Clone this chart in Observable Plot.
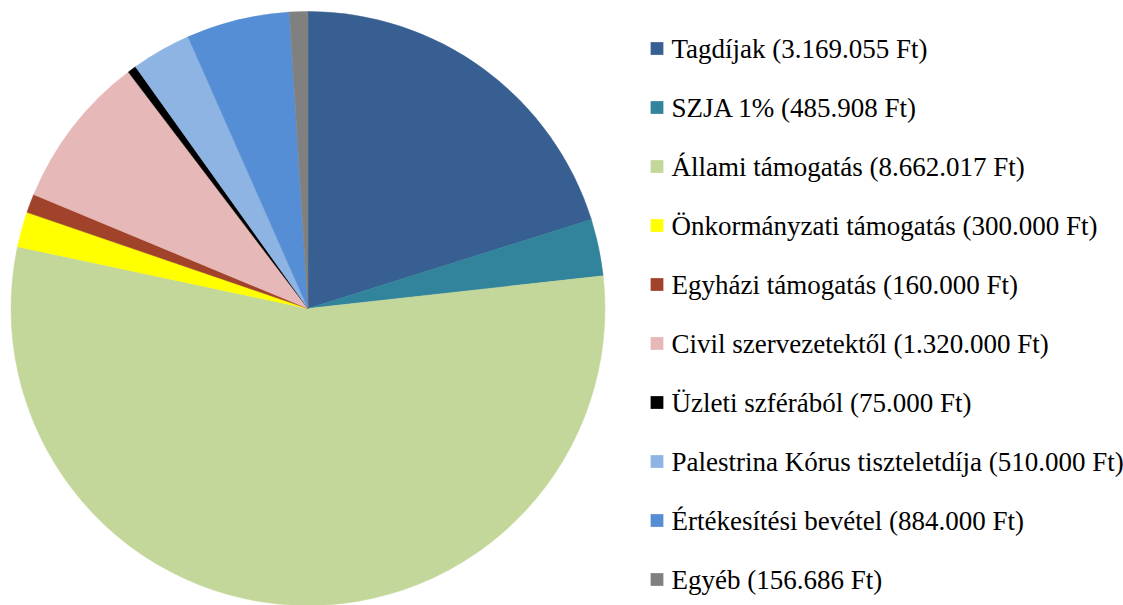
<!DOCTYPE html>
<html>
<head>
<meta charset="utf-8">
<script src="https://cdn.jsdelivr.net/npm/d3@7"></script>
<script src="https://cdn.jsdelivr.net/npm/@observablehq/plot@0.6"></script>
<style>
  html, body { margin: 0; padding: 0; background: #fff; }
</style>
</head>
<body>
<div id="wrap" style="position:relative;width:1123px;height:605px;overflow:hidden;"></div>
<script>
const categories = [
  "Tagdíjak", "SZJA 1%", "Állami támogatás", "Önkormányzati támogatás",
  "Egyházi támogatás", "Civil szervezetektől", "Üzleti szférából",
  "Palestrina Kórus tiszteletdíja", "Értékesítési bevétel", "Egyéb"
];
const values = [3169055, 485908, 8662017, 300000, 160000, 1320000, 75000, 510000, 884000, 156686];
const labels = [
  "Tagdíjak (3.169.055 Ft)", "SZJA 1% (485.908 Ft)", "Állami támogatás (8.662.017 Ft)",
  "Önkormányzati támogatás (300.000 Ft)", "Egyházi támogatás (160.000 Ft)",
  "Civil szervezetektől (1.320.000 Ft)", "Üzleti szférából (75.000 Ft)",
  "Palestrina Kórus tiszteletdíja (510.000 Ft)", "Értékesítési bevétel (884.000 Ft)",
  "Egyéb (156.686 Ft)"
];
const colors = ["#385F91", "#31849B", "#C4D79B", "#FFFF00", "#A0432A", "#E6B8B7", "#000000", "#8EB4E3", "#558ED5", "#808080"];

const data = categories.map((c, i) => ({category: c, value: values[i], label: labels[i]}));
const arcs = d3.pie().sort(null).value(d => d.value).startAngle(0).endAngle(2 * Math.PI)(data);

function pieMark(index, scales, values, dimensions, context) {
  const cx = scales.x(0), cy = scales.y(0);
  const r = scales.x(1) - scales.x(0);
  const arcGen = d3.arc().innerRadius(0).outerRadius(r);
  const g = d3.create("svg:g").attr("transform", `translate(${cx},${cy})`);
  g.selectAll("path").data(arcs).join("path")
    .attr("d", arcGen)
    .attr("fill", d => scales.color(d.data.category))
    .attr("stroke", d => scales.color(d.data.category))
    .attr("stroke-width", 0.5);
  return g.node();
}

const chart = Plot.plot({
  width: 640,
  height: 605,
  margin: 0,
  x: {domain: [-1, 1], range: [11, 605], axis: null},
  y: {domain: [-1, 1], range: [11.5, 605.5], axis: null},
  color: {domain: categories, range: colors},
  marks: [pieMark]
});
chart.style.position = "absolute";
chart.style.left = "0px";
chart.style.top = "0px";

const legendPlot = Plot.plot({
  width: 474,
  height: 605,
  margin: 0,
  style: {background: "transparent"},
  y: {domain: categories, type: "point", range: [46.5, 579.5], padding: 0, axis: null},
  color: {domain: categories, range: colors},
  marks: [
    Plot.dot(data, {y: "category", frameAnchor: "left", dx: 7.5, symbol: "square", r: 7.2, fill: "category", stroke: null}),
    Plot.text(data, {y: "category", text: "label", frameAnchor: "left", dx: 22, textAnchor: "start",
      fontSize: 27, fill: "#000", lineAnchor: "middle", dy: 1})
  ]
});
legendPlot.style.position = "absolute";
legendPlot.style.left = "649px";
legendPlot.style.top = "0px";
d3.select(legendPlot).selectAll("text").each(function() {
  this.setAttribute("font-family", "Liberation Serif");
  this.style.fontFamily = "'Liberation Serif'";
});

const wrap = document.getElementById("wrap");
wrap.appendChild(chart);
wrap.appendChild(legendPlot);
</script>
</body>
</html>
